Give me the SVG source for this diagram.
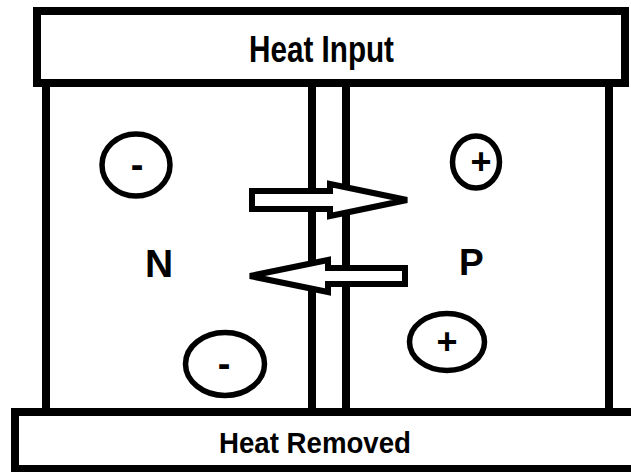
<svg xmlns="http://www.w3.org/2000/svg" width="631" height="472" viewBox="0 0 631 472">
<style>
.box{fill:#fff;stroke:#000;stroke-width:8}
.wall{stroke:#000;stroke-width:8;fill:none}
.ring{fill:#fff;stroke:#000;stroke-width:5.5}
.arrow{fill:#fff;stroke:#000;stroke-width:6;stroke-linejoin:miter}
.lbl{font-family:"Liberation Sans",Arial,sans-serif;font-weight:bold;fill:#000}
.sign{font-family:"Liberation Sans",Arial,sans-serif;font-weight:bold;fill:#000;text-anchor:middle}
</style>
<rect width="631" height="472" fill="#fff"/>
<g id="walls">
<line class="wall" x1="46" y1="84" x2="46" y2="410"/>
<line class="wall" x1="312" y1="84" x2="312" y2="410"/>
<line class="wall" x1="346" y1="84" x2="346" y2="410"/>
<line class="wall" x1="609" y1="84" x2="609" y2="410"/>
</g>
<g id="heat-input">
<rect class="box" x="37" y="11" width="588" height="72"/>
<text class="lbl" x="249" y="62" font-size="36" textLength="145" lengthAdjust="spacingAndGlyphs">Heat Input</text>
</g>
<g id="heat-removed">
<rect class="box" x="15" y="412" width="640" height="57"/>
<text class="lbl" x="219" y="453" font-size="29" textLength="192" lengthAdjust="spacingAndGlyphs">Heat Removed</text>
</g>
<g id="N">
<text class="lbl" x="145" y="277" font-size="39">N</text>
</g>
<g id="P">
<text class="lbl" x="459" y="275" font-size="37">P</text>
</g>
<g id="electron-1">
<ellipse class="ring" cx="136" cy="165" rx="34" ry="31"/>
<text class="sign" x="137" y="178" font-size="38">-</text>
</g>
<g id="electron-2">
<ellipse class="ring" cx="225" cy="364" rx="39.5" ry="31.5"/>
<text class="sign" x="224" y="377" font-size="38">-</text>
</g>
<g id="hole-1">
<ellipse class="ring" cx="476" cy="162" rx="23.5" ry="26"/>
<text class="sign" x="481" y="174" font-size="36">+</text>
</g>
<g id="hole-2">
<ellipse class="ring" cx="447" cy="342" rx="37.5" ry="28.5"/>
<text class="sign" x="447" y="354" font-size="36">+</text>
</g>
<g id="connectors">
<polygon class="arrow" points="252,191 330,191 330,184 407,200 330,216 330,209 252,209"/>
<polygon class="arrow" points="405,268 328,268 328,260 250,276 328,292 328,284 405,284"/>
</g>
</svg>
